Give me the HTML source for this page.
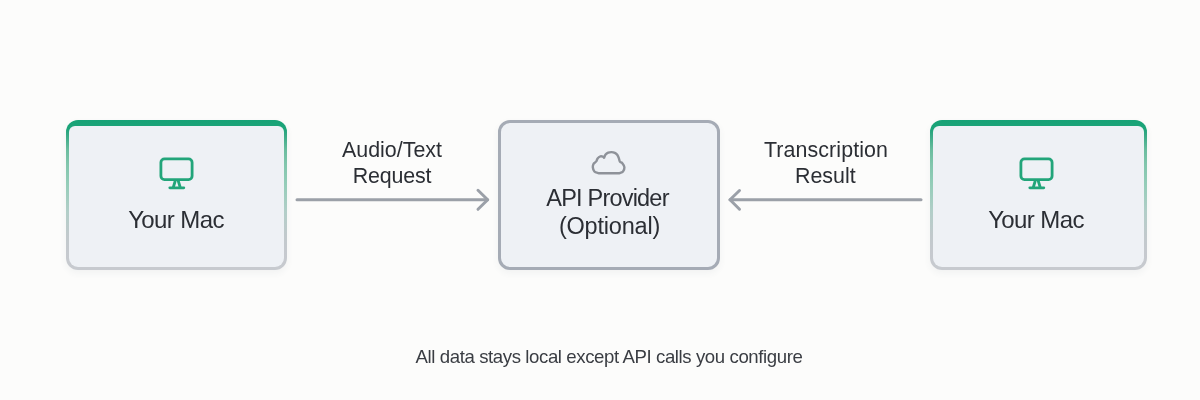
<!DOCTYPE html>
<html>
<head>
<meta charset="utf-8">
<style>
html,body{margin:0;padding:0;}
body{width:1200px;height:400px;overflow:hidden;background:#fcfcfb;position:relative;font-family:"Liberation Sans",sans-serif;color:#2b2e34;}
.box{position:absolute;box-sizing:border-box;border-radius:12px;box-shadow:0 3px 7px rgba(70,80,110,0.06);}
.gbox{background:linear-gradient(to bottom,#17a276 0px,#1da479 9px,#33a883 14px,#6bbd9f 30px,#82c6ad 45px,#95cdb9 65px,#b2cec8 92px,#c1c9cc 115px,#c5c9ce 130px,#c7cacf 100%);padding:6px 3px 3px 3px;}
.gbox .in{width:100%;height:100%;background:#eef1f5;border-radius:6px 6px 9px 9px;position:relative;}
.mbox{background:#eef1f5;border:3px solid #a5abb5;}
.lbl{position:absolute;white-space:nowrap;text-align:center;will-change:transform;}
svg{position:absolute;overflow:visible;}
</style>
</head>
<body>
<!-- left box -->
<div class="box gbox" style="left:66px;top:120px;width:221px;height:150px;"><div class="in"></div></div>
<!-- right box -->
<div class="box gbox" style="left:930px;top:120px;width:216.5px;height:150px;"><div class="in"></div></div>
<!-- middle box -->
<div class="box mbox" style="left:498px;top:120px;width:222px;height:150px;"></div>

<!-- monitor icons -->
<svg style="left:155px;top:152.5px" width="44" height="40" viewBox="0 0 44 40">
 <g fill="none" stroke="#22a57a" stroke-width="2.8" stroke-linecap="round" stroke-linejoin="round">
  <rect x="5.9" y="5.9" width="31.2" height="20.7" rx="3.6"/>
  <path d="M20.2 28 L18.4 34 M23.3 28 L25.1 34"/>
  <path d="M14.8 34.8 H28.8"/>
 </g>
</svg>
<svg style="left:1014.5px;top:152.5px" width="44" height="40" viewBox="0 0 44 40">
 <g fill="none" stroke="#22a57a" stroke-width="2.8" stroke-linecap="round" stroke-linejoin="round">
  <rect x="5.9" y="5.9" width="31.2" height="20.7" rx="3.6"/>
  <path d="M20.2 28 L18.4 34 M23.3 28 L25.1 34"/>
  <path d="M14.8 34.8 H28.8"/>
 </g>
</svg>

<!-- cloud icon -->
<svg style="left:588px;top:146px" width="44" height="32" viewBox="0 0 44 32">
 <path d="M10.50 27.20 C9.82 26.92 7.35 26.50 6.40 25.50 C5.45 24.50 4.92 22.52 4.80 21.20 C4.68 19.88 5.12 18.57 5.70 17.60 C6.28 16.63 7.65 16.27 8.30 15.40 C8.95 14.53 8.92 13.23 9.60 12.40 C10.28 11.57 11.52 10.68 12.40 10.40 C13.28 10.12 14.28 10.47 14.90 10.70 C15.52 10.93 15.90 11.62 16.10 11.80 C16.35 11.27 16.92 9.45 17.60 8.60 C18.28 7.75 19.23 7.12 20.20 6.70 C21.17 6.28 22.30 6.08 23.40 6.10 C24.50 6.12 25.80 6.32 26.80 6.80 C27.80 7.28 28.72 8.07 29.40 9.00 C30.08 9.93 30.48 11.30 30.90 12.40 C31.32 13.50 31.30 14.77 31.90 15.60 C32.50 16.43 33.75 16.47 34.50 17.40 C35.25 18.33 36.32 19.87 36.40 21.20 C36.48 22.53 35.82 24.40 35.00 25.40 C34.18 26.40 32.08 26.90 31.50 27.20 Z" fill="none" stroke="#8e9299" stroke-width="2.4" stroke-linejoin="round"/>
</svg>

<!-- arrows -->
<svg style="left:0;top:0" width="1200" height="400" viewBox="0 0 1200 400">
 <g fill="none" stroke="#9ba0a8" stroke-width="3" stroke-linecap="round" stroke-linejoin="round">
  <path d="M297 199.8 H487.5"/>
  <path d="M478 190.3 L487.7 199.8 L478 209.3"/>
  <path d="M921 199.8 H730"/>
  <path d="M739.5 190.5 L730 199.8 L739.5 209.2"/>
 </g>
</svg>

<!-- labels -->
<div class="lbl" style="left:76px;width:200px;top:207.7px;font-size:24px;line-height:24px;letter-spacing:-0.6px;">Your Mac</div>
<div class="lbl" style="left:935.5px;width:200px;top:207.7px;font-size:24px;line-height:24px;letter-spacing:-0.6px;">Your Mac</div>
<div class="lbl" style="left:509px;width:200px;top:183.5px;font-size:23.5px;line-height:28px;"><span style="letter-spacing:-0.8px;position:relative;left:-1.5px">API Provider</span><br><span style="letter-spacing:-0.2px;position:relative;left:0.5px">(Optional)</span></div>
<div class="lbl" style="left:292px;width:200px;top:137.5px;font-size:21.4px;line-height:25.75px;">Audio/Text<br><span style="letter-spacing:-0.2px">Request</span></div>
<div class="lbl" style="left:725.6px;width:200px;top:137.5px;font-size:21.4px;line-height:25.75px;"><span style="letter-spacing:0.1px">Transcription</span><br><span style="position:relative;left:-0.7px">Result</span></div>
<div class="lbl" style="left:409px;width:400px;top:348px;font-size:18.6px;line-height:18.6px;letter-spacing:-0.4px;color:#3a3d43;">All data stays local except API calls you configure</div>
</body>
</html>
